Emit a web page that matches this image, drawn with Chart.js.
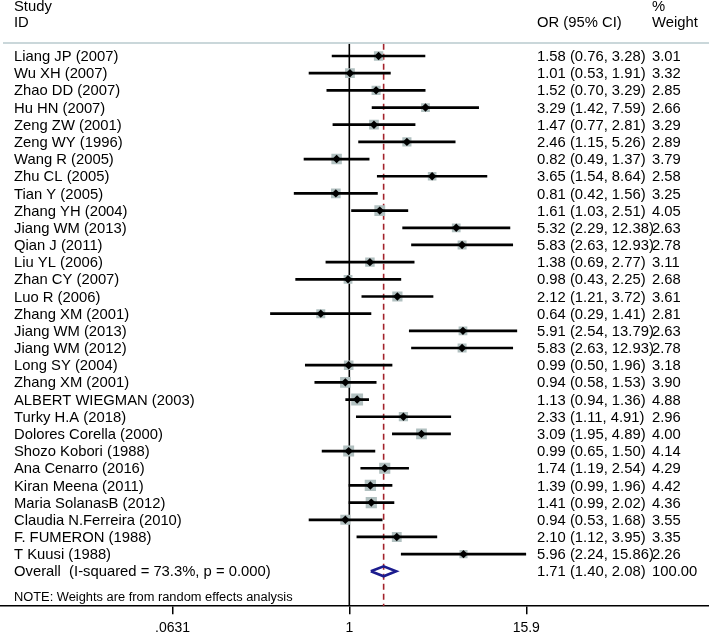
<!DOCTYPE html>
<html>
<head>
<meta charset="utf-8">
<script src="https://cdn.jsdelivr.net/npm/chart.js@4"></script>
<style>
  html, body { margin: 0; padding: 0; background: #fff; overflow: hidden; }
  #wrap { position: relative; width: 709px; height: 643px; }
</style>
</head>
<body>
<div id="wrap"><canvas id="forest"></canvas></div>
<script>
var studies = ["Liang JP (2007)", "Wu XH (2007)", "Zhao DD (2007)", "Hu HN (2007)", "Zeng ZW (2001)",
  "Zeng WY (1996)", "Wang R (2005)", "Zhu CL (2005)", "Tian Y (2005)", "Zhang YH (2004)",
  "Jiang WM (2013)", "Qian J (2011)", "Liu YL (2006)", "Zhan CY (2007)", "Luo R (2006)",
  "Zhang XM (2001)", "Jiang WM (2013)", "Jiang WM (2012)", "Long SY (2004)", "Zhang XM (2001)",
  "ALBERT WIEGMAN (2003)", "Turky H.A (2018)", "Dolores Corella (2000)", "Shozo Kobori (1988)", "Ana Cenarro (2016)",
  "Kiran Meena (2011)", "Maria SolanasB (2012)", "Claudia N.Ferreira (2010)", "F. FUMERON (1988)", "T Kuusi (1988)"];
var orVals = [1.58, 1.01, 1.52, 3.29, 1.47, 2.46, 0.82, 3.65, 0.81, 1.61,
  5.32, 5.83, 1.38, 0.98, 2.12, 0.64, 5.91, 5.83, 0.99, 0.94,
  1.13, 2.33, 3.09, 0.99, 1.74, 1.39, 1.41, 0.94, 2.10, 5.96];
var ciLow = [0.76, 0.53, 0.70, 1.42, 0.77, 1.15, 0.49, 1.54, 0.42, 1.03,
  2.29, 2.63, 0.69, 0.43, 1.21, 0.29, 2.54, 2.63, 0.50, 0.58,
  0.94, 1.11, 1.95, 0.65, 1.19, 0.99, 0.99, 0.53, 1.12, 2.24];
var ciHigh = [3.28, 1.91, 3.29, 7.59, 2.81, 5.26, 1.37, 8.64, 1.56, 2.51,
  12.38, 12.93, 2.77, 2.25, 3.72, 1.41, 13.79, 12.93, 1.96, 1.53,
  1.36, 4.91, 4.89, 1.50, 2.54, 1.96, 2.02, 1.68, 3.95, 15.86];
var weights = [3.01, 3.32, 2.85, 2.66, 3.29, 2.89, 3.79, 2.58, 3.25, 4.05,
  2.63, 2.78, 3.11, 2.68, 3.61, 2.81, 2.63, 2.78, 3.18, 3.90,
  4.88, 2.96, 4.00, 4.14, 4.29, 4.42, 4.36, 3.55, 3.35, 2.26];

var overallLabel = "Overall  (I-squared = 73.3%, p = 0.000)";
var overallOR = 1.71, overallLow = 1.40, overallHigh = 2.08, overallWeight = 100.00;
var noteText = "NOTE: Weights are from random effects analysis";

var tickVals = [0.0631, 1, 15.9];
var tickLabels = [".0631", "1", "15.9"];

// layout in row units (y) and pixels (text columns)
var nRows = studies.length;
var overallRow = nRows;
var yMin = -3.26, yMax = 32.03;
var xMin = 0.00425, xMax = 276.7;
var colStudy = 14, colOR = 537, colW = 652;
var FONT = '14.8px "Liberation Sans", Arial, sans-serif';

function fmt(v) { return v.toFixed(2); }

var datasets = [];

// black centre diamonds (drawn on top)
datasets.push({
  data: orVals.map(function (v, i) { return {x: v, y: i}; }),
  pointStyle: 'rectRot',
  pointRadius: 4.2,
  backgroundColor: '#000',
  borderColor: '#000',
  borderWidth: 0
});

// CI lines
for (var i = 0; i < nRows; i++) {
  datasets.push({
    data: [{x: ciLow[i], y: i}, {x: ciHigh[i], y: i}],
    showLine: true,
    borderColor: '#000',
    borderWidth: 2.7,
    pointRadius: 0
  });
}

// weight boxes
datasets.push({
  data: orVals.map(function (v, i) { return {x: v, y: i}; }),
  pointStyle: 'rect',
  pointRadius: function (ctx) { return 3.8 * Math.sqrt(weights[ctx.dataIndex]); },
  backgroundColor: '#b1c0c0',
  borderWidth: 0
});

// overall diamond
datasets.push({
  data: [
    {x: overallLow, y: overallRow},
    {x: overallOR, y: overallRow - 0.29},
    {x: overallHigh, y: overallRow},
    {x: overallOR, y: overallRow + 0.29},
    {x: overallLow, y: overallRow}
  ],
  showLine: true,
  borderColor: '#1c1c8e',
  borderWidth: 2.6,
  borderJoinStyle: 'miter',
  pointRadius: 0
});

// overall effect line (dashed) and null line
datasets.push({
  data: [{x: overallOR, y: -0.72}, {x: overallOR, y: yMax}],
  showLine: true,
  borderColor: '#a3222b',
  borderWidth: 1.6,
  borderDash: [6, 4],
  pointRadius: 0
});
datasets.push({
  data: [{x: 1, y: -0.72}, {x: 1, y: yMax}],
  showLine: true,
  borderColor: '#000',
  borderWidth: 1.6,
  pointRadius: 0
});

var textPlugin = {
  id: 'forestText',
  afterDraw: function (chart) {
    var ctx = chart.ctx;
    var ys = chart.scales.y;
    ctx.save();
    // separator under header
    var sepY = ys.getPixelForValue(-0.76);
    ctx.strokeStyle = '#b8cace';
    ctx.lineWidth = 1.6;
    ctx.beginPath();
    ctx.moveTo(3, sepY);
    ctx.lineTo(chart.width, sepY);
    ctx.stroke();

    ctx.fillStyle = '#000';
    ctx.font = FONT;
    ctx.textBaseline = 'middle';
    ctx.textAlign = 'left';
    var h1 = ys.getPixelForValue(-2.85), h2 = ys.getPixelForValue(-1.92);
    ctx.fillText("Study", colStudy, h1);
    ctx.fillText("ID", colStudy, h2);
    ctx.fillText("OR (95% CI)", colOR, h2);
    ctx.fillText("%", colW, h1);
    ctx.fillText("Weight", colW, h2);

    for (var i = 0; i < nRows; i++) {
      var y = ys.getPixelForValue(i) + 1;
      ctx.fillText(studies[i], colStudy, y);
      ctx.fillText(fmt(orVals[i]) + " (" + fmt(ciLow[i]) + ", " + fmt(ciHigh[i]) + ")", colOR, y);
      ctx.fillText(fmt(weights[i]), colW, y);
    }
    var oy = ys.getPixelForValue(overallRow) + 1;
    ctx.fillText(overallLabel, colStudy, oy);
    ctx.fillText(fmt(overallOR) + " (" + fmt(overallLow) + ", " + fmt(overallHigh) + ")", colOR, oy);
    ctx.fillText(fmt(overallWeight), colW, oy);

    ctx.font = '12.85px "Liberation Sans", Arial, sans-serif';
    ctx.fillText(noteText, colStudy, ys.getPixelForValue(31.5));
    ctx.restore();
  }
};

new Chart(document.getElementById('forest').getContext('2d'), {
  type: 'scatter',
  data: {datasets: datasets},
  plugins: [textPlugin],
  options: {
    responsive: true,
    maintainAspectRatio: false,
    animation: false,
    events: [],
    layout: {padding: 0, autoPadding: false},
    plugins: {legend: {display: false}, tooltip: {enabled: false}},
    scales: {
      x: {
        type: 'logarithmic',
        min: xMin,
        max: xMax,
        afterBuildTicks: function (scale) {
          scale.ticks = tickVals.map(function (v) { return {value: v}; });
        },
        ticks: {
          autoSkip: false,
          maxRotation: 0,
          padding: 6,
          color: '#000',
          font: {family: '"Liberation Sans", Arial, sans-serif', size: 14},
          callback: function (value, index) { return tickLabels[index]; }
        },
        grid: {display: true, drawOnChartArea: false, drawTicks: true, tickLength: 8, color: '#000', lineWidth: 1.5},
        border: {display: true, color: '#000', width: 1.5}
      },
      y: {
        type: 'linear',
        reverse: true,
        min: yMin,
        max: yMax,
        display: false
      }
    }
  }
});
</script>
</body>
</html>
